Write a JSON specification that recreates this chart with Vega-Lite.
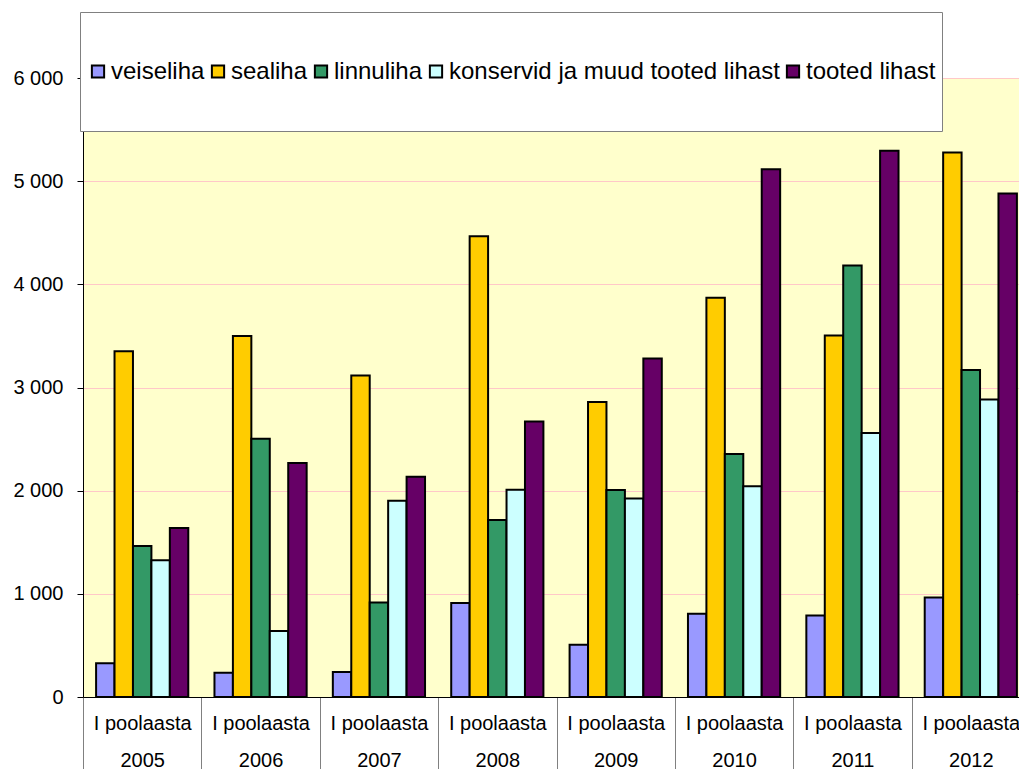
{
  "$schema": "https://vega.github.io/schema/vega-lite/v6.json",
  "width": 936,
  "height": 619,
  "autosize": {"type": "none"},
  "padding": {"left": 83, "top": 78, "right": 0, "bottom": 72},
  "background": "white",
  "config": {
    "view": {"fill": "#FFFFCC", "stroke": null},
    "font": "Liberation Sans"
  },
  "data": {
    "values": [
      {"year": "2005", "series": "veiseliha", "value": 326},
      {"year": "2005", "series": "sealiha", "value": 3351},
      {"year": "2005", "series": "linnuliha", "value": 1464},
      {"year": "2005", "series": "konservid ja muud tooted lihast", "value": 1325},
      {"year": "2005", "series": "tooted lihast", "value": 1638},
      {"year": "2006", "series": "veiseliha", "value": 236},
      {"year": "2006", "series": "sealiha", "value": 3499},
      {"year": "2006", "series": "linnuliha", "value": 2504},
      {"year": "2006", "series": "konservid ja muud tooted lihast", "value": 640},
      {"year": "2006", "series": "tooted lihast", "value": 2268},
      {"year": "2007", "series": "veiseliha", "value": 242},
      {"year": "2007", "series": "sealiha", "value": 3116},
      {"year": "2007", "series": "linnuliha", "value": 917},
      {"year": "2007", "series": "konservid ja muud tooted lihast", "value": 1902},
      {"year": "2007", "series": "tooted lihast", "value": 2134},
      {"year": "2008", "series": "veiseliha", "value": 911},
      {"year": "2008", "series": "sealiha", "value": 4466},
      {"year": "2008", "series": "linnuliha", "value": 1715},
      {"year": "2008", "series": "konservid ja muud tooted lihast", "value": 2008},
      {"year": "2008", "series": "tooted lihast", "value": 2670},
      {"year": "2009", "series": "veiseliha", "value": 507},
      {"year": "2009", "series": "sealiha", "value": 2859},
      {"year": "2009", "series": "linnuliha", "value": 2007},
      {"year": "2009", "series": "konservid ja muud tooted lihast", "value": 1923},
      {"year": "2009", "series": "tooted lihast", "value": 3282},
      {"year": "2010", "series": "veiseliha", "value": 806},
      {"year": "2010", "series": "sealiha", "value": 3870},
      {"year": "2010", "series": "linnuliha", "value": 2356},
      {"year": "2010", "series": "konservid ja muud tooted lihast", "value": 2042},
      {"year": "2010", "series": "tooted lihast", "value": 5116},
      {"year": "2011", "series": "veiseliha", "value": 789},
      {"year": "2011", "series": "sealiha", "value": 3504},
      {"year": "2011", "series": "linnuliha", "value": 4183},
      {"year": "2011", "series": "konservid ja muud tooted lihast", "value": 2560},
      {"year": "2011", "series": "tooted lihast", "value": 5296},
      {"year": "2012", "series": "veiseliha", "value": 965},
      {"year": "2012", "series": "sealiha", "value": 5278},
      {"year": "2012", "series": "linnuliha", "value": 3169},
      {"year": "2012", "series": "konservid ja muud tooted lihast", "value": 2884},
      {"year": "2012", "series": "tooted lihast", "value": 4880}
    ]
  },
  "mark": {"type": "bar", "stroke": "black", "strokeWidth": 2},
  "encoding": {
    "x": {
      "field": "year",
      "type": "nominal",
      "scale": {"range": [0, 947], "paddingInner": 0, "paddingOuter": 0},
      "axis": {
        "title": null,
        "domainColor": "black",
        "domainWidth": 1,
        "tickBand": "extent",
        "tickSize": 72,
        "tickColor": "#808080",
        "tickWidth": 1,
        "labelExpr": "isValid(datum.value) ? ['I poolaasta', datum.label] : ''",
        "labelFontSize": 20,
        "labelColor": "black",
        "labelLineHeight": 37,
        "labelPadding": -56,
        "labelAngle": 0,
        "labelBaseline": "top",
        "labelOverlap": false,
        "labelFlush": false,
        "labelLimit": 0
      }
    },
    "xOffset": {
      "field": "series",
      "type": "nominal",
      "sort": ["veiseliha", "sealiha", "linnuliha", "konservid ja muud tooted lihast", "tooted lihast"],
      "scale": {"paddingInner": 0, "paddingOuter": 0.71}
    },
    "y": {
      "field": "value",
      "type": "quantitative",
      "scale": {"domain": [0, 6000], "nice": false},
      "axis": {
        "title": null,
        "values": [0, 1000, 2000, 3000, 4000, 5000, 6000],
        "labelExpr": "replace(format(datum.value, ','), ',', ' ')",
        "labelFontSize": 20,
        "labelColor": "black",
        "labelPadding": 14,
        "tickSize": 6,
        "tickColor": "black",
        "domainColor": "black",
        "grid": true,
        "gridColor": "#FFC8C8",
        "gridWidth": 1
      }
    },
    "color": {
      "field": "series",
      "type": "nominal",
      "sort": ["veiseliha", "sealiha", "linnuliha", "konservid ja muud tooted lihast", "tooted lihast"],
      "scale": {
        "domain": ["veiseliha", "sealiha", "linnuliha", "konservid ja muud tooted lihast", "tooted lihast"],
        "range": ["#9999FF", "#FFCC00", "#339966", "#CCFFFF", "#660066"]
      },
      "legend": {
        "title": null,
        "orient": "none",
        "legendX": -3,
        "legendY": -66,
        "direction": "horizontal",
        "fillColor": "white",
        "strokeColor": "#808080",
        "padding": 6,
        "clipHeight": 107,
        "symbolType": "square",
        "symbolSize": 150,
        "symbolStrokeColor": "black",
        "symbolStrokeWidth": 2,
        "symbolOpacity": 1,
        "labelFontSize": 24,
        "labelColor": "black",
        "labelOffset": 1,
        "columnPadding": 1,
        "labelLimit": 0
      }
    }
  }
}
